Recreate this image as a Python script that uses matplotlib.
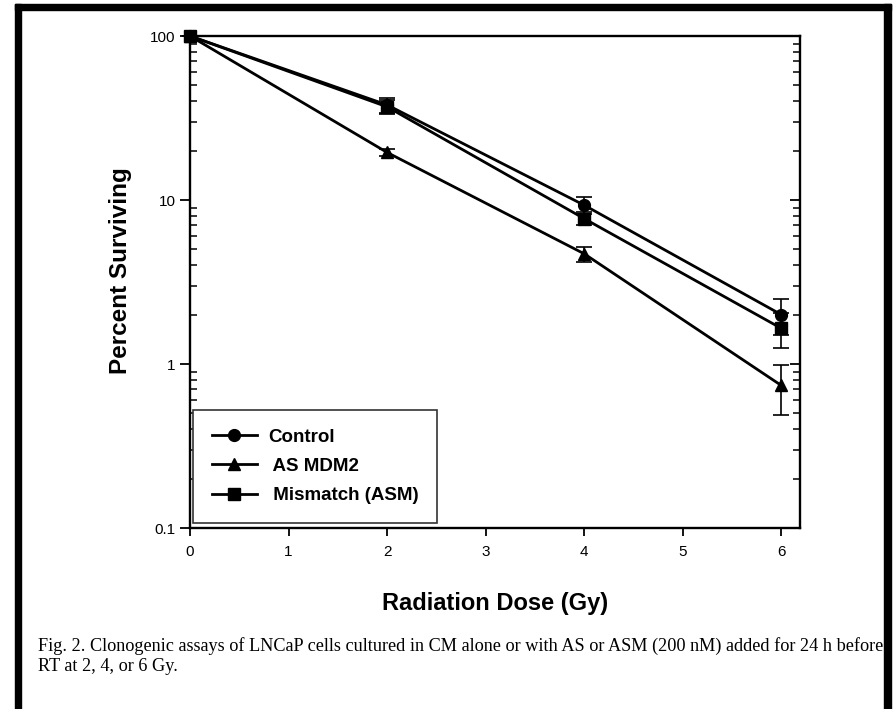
import matplotlib
matplotlib.use("Agg")
import matplotlib.pyplot as plt
from matplotlib.patches import Rectangle
from matplotlib.lines import Line2D
from matplotlib.ticker import LogLocator, NullFormatter, FixedLocator, FixedFormatter

# dose (Gy) and survival (%)
dose = [0, 2, 4, 6]
control = [100, 38, 9.3, 2.0]
control_err = [0, 4.0, 1.1, 0.5]
as_mdm2 = [100, 19.5, 4.7, 0.74]
as_mdm2_err = [0, 0.9, 0.5, 0.25]
mismatch = [100, 37, 7.7, 1.65]
mismatch_err = [0, 3.5, 0.7, 0.4]

labels = ["Control", " AS MDM2", " Mismatch (ASM)"]
markers = ['o', '^', 's']
ytick_vals = [0.1, 1, 10, 100]
ytick_labels = ["0.1", "1", "10", "100"]
caption = ("Fig. 2. Clonogenic assays of LNCaP cells cultured in CM alone or with AS or ASM (200 nM) added for 24 h before\n"
           "RT at 2, 4, or 6 Gy.")

plt.rcParams['font.family'] = ['Liberation Sans', 'DejaVu Sans']

fig = plt.figure(figsize=(8.94, 7.09), dpi=100)
ax = fig.add_axes([190/894, 1 - 528/709, 610/894, 492/709])

kw = dict(color='black', lw=2.0, capsize=6, elinewidth=1.2, capthick=1.2, markersize=8.5, clip_on=False)
series = [control, as_mdm2, mismatch]
errs = [control_err, as_mdm2_err, mismatch_err]
for y, e, m in zip(series, errs, markers):
    ax.errorbar(dose, y, yerr=e, marker=m, **kw)

ax.set_yscale('log')
ax.set_ylim(0.1, 100)
ax.set_xlim(0, 6.19)
ax.yaxis.set_major_locator(FixedLocator(ytick_vals))
ax.yaxis.set_major_formatter(FixedFormatter(ytick_labels))
ax.yaxis.set_minor_locator(LogLocator(base=10, subs=range(2, 10)))
ax.yaxis.set_minor_formatter(NullFormatter())
ax.set_xticks(range(0, 7))

for s in ax.spines.values():
    s.set_linewidth(1.7)
ax.tick_params(axis='y', which='major', direction='out', length=7, width=1.3, labelsize=11, right=False)
ax.tick_params(axis='y', which='minor', direction='in', length=5, width=1.1, right=False)
ax.tick_params(axis='x', which='major', direction='out', length=6, width=1.3, labelsize=11, top=False, pad=6)

# ticks on the right spine point inward
ax2 = ax.twinx()
ax2.set_yscale('log')
ax2.set_ylim(0.1, 100)
ax2.yaxis.set_major_locator(FixedLocator(ytick_vals))
ax2.yaxis.set_minor_locator(LogLocator(base=10, subs=range(2, 10)))
ax2.yaxis.set_major_formatter(NullFormatter())
ax2.yaxis.set_minor_formatter(NullFormatter())
ax2.tick_params(axis='y', which='major', direction='in', length=7, width=1.3)
ax2.tick_params(axis='y', which='minor', direction='in', length=5, width=1.1)
for s in ax2.spines.values():
    s.set_visible(False)

ax.set_ylabel('Percent Surviving', fontsize=17.5, fontweight='bold')
ax.yaxis.set_label_coords(-0.095, 0.524)
ax.set_xlabel('Radiation Dose (Gy)', fontsize=17, fontweight='bold', labelpad=24)

handles = [Line2D([], [], color='black', lw=2.0, marker=m, markersize=8.5) for m in markers]
leg = ax.legend(handles, labels, loc='lower left', bbox_to_anchor=(0.005, 0.01), borderaxespad=0,
                prop={'weight': 'bold', 'size': 13.5}, handlelength=2.4, labelspacing=0.65,
                borderpad=1.0, handletextpad=0.6, fancybox=False, framealpha=1)
leg.get_frame().set_edgecolor('#333333')
leg.get_frame().set_linewidth(1.2)

fig.text(38/894, 1 - 637/709, caption, fontsize=13.15, family='Liberation Serif',
         va='top', ha='left', linespacing=1.2)

# black frame around the figure (no bottom edge)
fig.patches.append(Rectangle((15/894, 0), 6/894, 1 - 4/709, transform=fig.transFigure, color='black'))
fig.patches.append(Rectangle((15/894, 1 - 10/709), (891 - 15)/894, 6/709, transform=fig.transFigure, color='black'))
fig.patches.append(Rectangle((884/894, 0), 7/894, 1 - 4/709, transform=fig.transFigure, color='black'))

fig.savefig('out.png', dpi=100)
